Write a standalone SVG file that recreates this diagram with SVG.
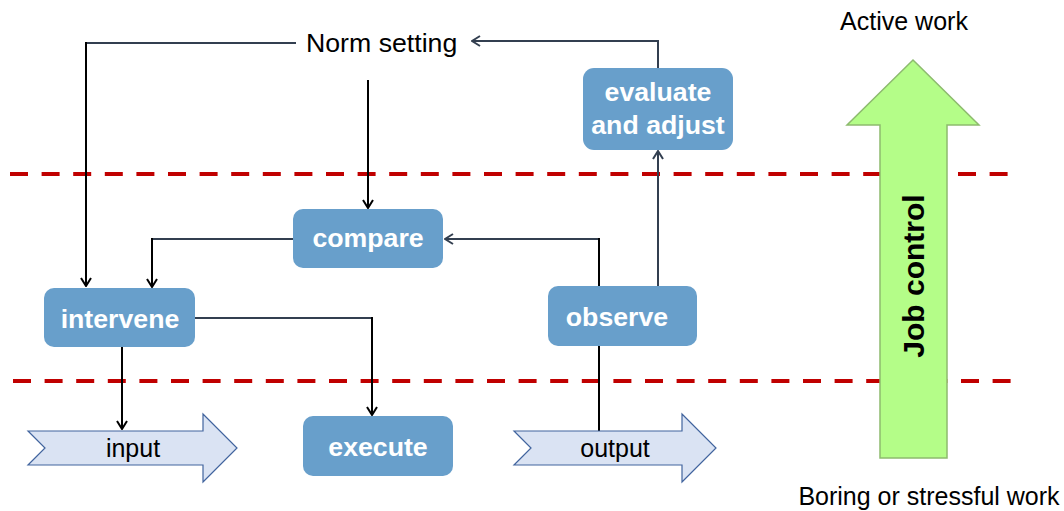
<svg xmlns="http://www.w3.org/2000/svg" width="1064" height="511" viewBox="0 0 1064 511">
  <defs>
    <style>
      .box { fill: #689FCB; }
      .lbl { font-family: "Liberation Sans", Arial, sans-serif; font-weight: bold; font-size: 26.7px; fill: #ffffff; text-anchor: middle; }
      .plain { font-family: "Liberation Sans", Arial, sans-serif; font-size: 25px; fill: #000000; text-anchor: middle; }
      .flow { fill: #DAE3F3; stroke: #41649E; stroke-width: 1.2; }
      .zone { stroke: #C00000; stroke-width: 4; stroke-dasharray: 18 13.6; fill: none; }
      .wire { fill: none; stroke-width: 2; stroke-linejoin: miter; }
      .slate { stroke: #333F50; }
      .dark { stroke: #000000; }
    </style>
    <marker id="tip" viewBox="0 0 10 12" refX="9" refY="6" markerWidth="10" markerHeight="12" markerUnits="userSpaceOnUse" orient="auto">
      <path d="M1,1 L9,6 L1,11" fill="none" stroke="#000" stroke-width="2"/>
    </marker>
    <marker id="tipSlate" viewBox="0 0 10 12" refX="9" refY="6" markerWidth="10" markerHeight="12" markerUnits="userSpaceOnUse" orient="auto">
      <path d="M1,1 L9,6 L1,11" fill="none" stroke="#333F50" stroke-width="2"/>
    </marker>
  </defs>

  <rect width="1064" height="511" fill="#ffffff"/>

  <!-- level boundaries -->
  <line class="zone" x1="10" y1="174" x2="1008" y2="174"/>
  <line class="zone" x1="13" y1="381" x2="1012" y2="381"/>

  <!-- job control scale -->
  <g id="job-control">
    <polygon points="913,60 979,125 947,125 947,458 880,458 880,125 847,125" fill="#B4FD88" stroke="#8DBB6E" stroke-width="1.5"/>
    <text transform="translate(924,276) rotate(-90)" font-family="'Liberation Sans', Arial, sans-serif" font-weight="bold" font-size="30" text-anchor="middle" fill="#000">Job control</text>
  </g>
  <g id="active-work">
    <text class="plain" x="904" y="30">Active work</text>
  </g>
  <g id="boring-work">
    <text class="plain" x="929" y="505">Boring or stressful work</text>
  </g>

  <!-- connectors -->
  <g id="connectors">
    <!-- norm setting to intervene -->
    <path class="wire slate" d="M296,43 H86"/>
    <path class="wire dark" d="M86,42 V286" marker-end="url(#tip)"/>
    <!-- norm setting to compare -->
    <path class="wire dark" d="M368,80 V208" marker-end="url(#tip)"/>
    <!-- evaluate to norm setting -->
    <path class="wire slate" d="M658,69 V41 H472" marker-end="url(#tipSlate)"/>
    <!-- observe to evaluate -->
    <path class="wire slate" d="M658,286 V151" marker-end="url(#tipSlate)"/>
    <!-- compare to intervene -->
    <path class="wire slate" d="M293,239 H152"/>
    <path class="wire dark" d="M152,238 V287" marker-end="url(#tip)"/>
    <!-- observe to compare -->
    <path class="wire slate" d="M599,239 H445" marker-end="url(#tipSlate)"/>
    <path class="wire dark" d="M599,238 V286" stroke-width="3"/>
    <!-- output to observe -->
    <path class="wire dark" d="M599,346 V431" stroke-width="3"/>
    <!-- intervene to execute -->
    <path class="wire slate" d="M195,318 H372"/>
    <path class="wire dark" d="M372,317 V415" marker-end="url(#tip)"/>
    <!-- intervene to input -->
    <path class="wire dark" d="M122,347 V429" marker-end="url(#tip)"/>
  </g>

  <!-- nodes -->
  <g id="norm-setting">
    <text x="306" y="52" font-family="'Liberation Sans', Arial, sans-serif" font-size="26.7" fill="#000">Norm setting</text>
  </g>
  <g id="evaluate">
    <rect class="box" x="583" y="68" width="150" height="82" rx="11"/>
    <text class="lbl" x="658" y="101">evaluate</text>
    <text class="lbl" x="658" y="134">and adjust</text>
  </g>
  <g id="compare">
    <rect class="box" x="293" y="209" width="150" height="59" rx="10"/>
    <text class="lbl" x="368" y="247">compare</text>
  </g>
  <g id="intervene">
    <rect class="box" x="44" y="288" width="151" height="59" rx="10"/>
    <text class="lbl" x="120" y="328">intervene</text>
  </g>
  <g id="observe">
    <rect class="box" x="548" y="286" width="149" height="60" rx="10"/>
    <text class="lbl" x="617" y="326">observe</text>
  </g>
  <g id="execute">
    <rect class="box" x="303" y="416" width="150" height="60" rx="10"/>
    <text class="lbl" x="378" y="456">execute</text>
  </g>
  <g id="input">
    <polygon class="flow" points="28,431 203,431 203,414 237,448 203,482 203,465 28,465 45,448"/>
    <text class="plain" x="133" y="457">input</text>
  </g>
  <g id="output">
    <polygon class="flow" points="514,431 682,431 682,414 716,448 682,482 682,465 514,465 531,448"/>
    <text class="plain" x="615" y="457">output</text>
  </g>
</svg>
